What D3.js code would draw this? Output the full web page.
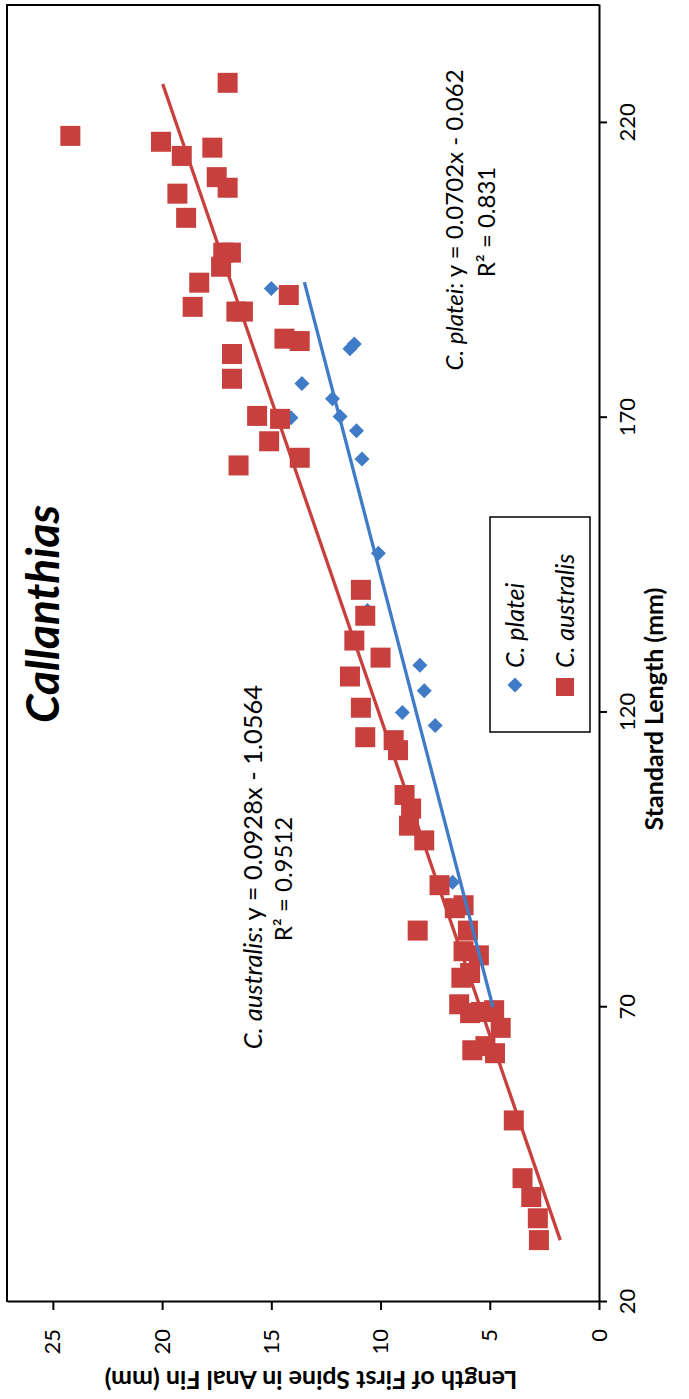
<!DOCTYPE html>
<html>
<head>
<meta charset="utf-8">
<script src="https://cdn.jsdelivr.net/npm/d3@7"></script>
<style>
  body { margin: 0; background: #fff; }
  text { font-family: Lato, "Open Sans", sans-serif; fill: #000; }
</style>
</head>
<body>
<div id="chart"></div>
<script>
var svgWidth = 689;
var svgHeight = 1399;

// the figure is laid out landscape and then turned a quarter turn (page is portrait)
var plot = { left: 97, right: 1394, top: 7, bottom: 599 };

// C. platei (blue diamonds): standard length, spine length
var plateiSL    = [91.2, 117.8, 120.0, 123.7, 128.0, 137.3, 147.0, 163.0, 167.8, 170.0, 170.2, 173.2, 175.8, 181.7, 182.5, 191.9];
var plateiSpine = [6.7,  7.5,   9.0,   8.0,   8.2,   10.6,  10.1,  10.85, 11.1,  14.1,  11.85, 12.2,  13.6,  11.4,  11.2,  15.0];

// C. australis (red squares)
var australisSL    = [30.5, 34.2, 37.8, 41.0, 50.8, 62.2, 62.7, 63.4, 66.5, 69.0, 69.2, 69.5, 70.5, 75.0, 75.8, 78.8, 79.5, 83.0, 83.0, 86.8, 87.3, 90.7,
                      98.3, 100.8, 103.7, 106.0, 113.6, 115.3, 115.8, 120.8, 126.1, 129.3, 132.2, 136.4, 140.8, 161.9, 163.2, 166.0, 169.8, 170.3,
                      176.6, 180.8, 183.0, 183.4, 188.0, 188.0, 188.8, 190.8, 192.9, 195.6, 198.0, 198.0, 203.9, 208.0, 209.0, 210.8, 214.4, 215.8,
                      216.8, 217.8, 226.8];
var australisSpine = [2.75, 2.8, 3.1, 3.5, 3.9, 4.76, 5.8, 5.2, 4.5, 5.9, 5.4, 4.8, 6.4, 6.3, 5.9, 5.5, 6.2, 8.3, 6.0, 6.6, 6.2, 7.3,
                      8.0, 8.7, 8.6, 8.9, 9.2, 9.4, 10.7, 10.9, 11.4, 10.0, 11.2, 10.7, 10.9, 16.5, 13.7, 15.1, 14.6, 15.65,
                      16.8, 16.8, 13.7, 14.4, 16.6, 16.3, 18.6, 14.2, 18.3, 17.3, 17.2, 16.85, 18.9, 19.3, 17.0, 17.5, 19.1, 17.7,
                      20.05, 24.2, 17.0];

var xTicks = [20, 70, 120, 170, 220];
var yTicks = [0, 5, 10, 15, 20, 25];

// linear trendlines as printed on the figure
var trendNames = ["C. platei", "C. australis"];
var trendSlope = [0.0702, 0.0928];
var trendIntercept = [-0.062, -1.0564];
var trendR2 = ["0.831", "0.9512"];
var trendFrom = [70, 30.5];
var trendTo = [193, 226.6];

var blue = "#3f7bc6";
var red = "#c7403d";

var svg = d3.select("#chart")
  .append("svg")
  .attr("width", svgWidth)
  .attr("height", svgHeight);

var chartGroup = svg.append("g")
  .attr("transform", `translate(0, ${svgHeight}) rotate(-90)`);

var xScale = d3.scaleLinear().domain([20, 240]).range([plot.left, plot.right]);
var yScale = d3.scaleLinear().domain([0, 27.1]).range([plot.bottom, plot.top]);

// plot border (top and left of the landscape layout)
chartGroup.append("path")
  .attr("d", `M${plot.left},${plot.top}H${plot.right}V${plot.bottom}`)
  .attr("fill", "none")
  .attr("stroke", "#000")
  .attr("stroke-width", 2);

// x axis (standard length)
var xAxis = chartGroup.append("g")
  .attr("transform", `translate(0, ${plot.bottom})`)
  .call(d3.axisBottom(xScale).tickValues(xTicks).tickSize(8).tickPadding(12).tickSizeOuter(0));

// y axis (spine length)
var yAxis = chartGroup.append("g")
  .attr("transform", `translate(${plot.left}, 0)`)
  .call(d3.axisLeft(yScale).tickValues(yTicks).tickSize(8).tickPadding(19).tickSizeOuter(0));

[xAxis, yAxis].forEach(function(ax) {
  ax.select(".domain").attr("stroke-width", 2);
  ax.selectAll(".tick line").attr("stroke-width", 2);
  ax.selectAll(".tick text").attr("font-size", 22).style("font-family", "Lato, sans-serif");
});

// axis titles
chartGroup.append("text")
  .attr("x", 690)
  .attr("y", 663)
  .attr("text-anchor", "middle")
  .attr("font-size", 25)
  .attr("font-weight", "bold")
  .text("Standard Length (mm)");

chartGroup.append("text")
  .attr("transform", `translate(28, ${(plot.top + plot.bottom) / 2 + 8}) rotate(-90)`)
  .attr("text-anchor", "middle")
  .attr("font-size", 25)
  .attr("font-weight", "bold")
  .text("Length of First Spine in Anal Fin (mm)");

// chart title
chartGroup.append("text")
  .attr("x", 785)
  .attr("y", 59)
  .attr("text-anchor", "middle")
  .attr("font-size", 46)
  .attr("font-weight", "bold")
  .attr("font-style", "italic")
  .text("Callanthias");

// data as [x, y] pairs
var plateiData = plateiSL.map((d, i) => [d, plateiSpine[i]]);
var australisData = australisSL.map((d, i) => [d, australisSpine[i]]);

var diamond = "M0,-7.5L7.5,0L0,7.5L-7.5,0Z";

chartGroup.selectAll(".platei")
  .data(plateiData)
  .enter()
  .append("path")
  .classed("platei", true)
  .attr("d", diamond)
  .attr("transform", d => `translate(${xScale(d[0])}, ${yScale(d[1])})`)
  .attr("fill", blue);

chartGroup.selectAll(".australis")
  .data(australisData)
  .enter()
  .append("rect")
  .classed("australis", true)
  .attr("x", d => xScale(d[0]) - 10)
  .attr("y", d => yScale(d[1]) - 10)
  .attr("width", 20)
  .attr("height", 20)
  .attr("fill", red);

// trendlines
var lineColors = [blue, red];
trendNames.forEach(function(name, i) {
  var ends = [trendFrom[i], trendTo[i]].map(x => [x, trendSlope[i] * x + trendIntercept[i]]);
  chartGroup.append("path")
    .attr("d", d3.line().x(d => xScale(d[0])).y(d => yScale(d[1]))(ends))
    .attr("stroke", lineColors[i])
    .attr("stroke-width", 3.3)
    .attr("fill", "none");
});

// trendline labels
var labelPos = [
  { x: 1179, y: 463, x2: 1177, y2: 495 },
  { x: 532, y: 262, x2: 520, y2: 292 }
];
var labelSize = [24, 25.5];
trendNames.forEach(function(name, i) {
  var p = labelPos[i];
  var t = chartGroup.append("text")
    .attr("x", p.x)
    .attr("y", p.y)
    .attr("text-anchor", "middle")
    .attr("font-size", labelSize[i]);
  t.append("tspan").attr("font-style", "italic").text(name);
  var sign = trendIntercept[i] < 0 ? " - " : " + ";
  t.append("tspan").text(": y = " + trendSlope[i] + "x" + sign + Math.abs(trendIntercept[i]));
  chartGroup.append("text")
    .attr("x", p.x2)
    .attr("y", p.y2)
    .attr("text-anchor", "middle")
    .attr("font-size", 24)
    .text("R² = " + trendR2[i]);
});

// legend
var legend = chartGroup.append("g");
legend.append("rect")
  .attr("x", 667)
  .attr("y", 490)
  .attr("width", 215)
  .attr("height", 100)
  .attr("fill", "#fff")
  .attr("stroke", "#000")
  .attr("stroke-width", 1.5);

legend.append("path")
  .attr("d", diamond)
  .attr("transform", "translate(714, 515)")
  .attr("fill", blue);
legend.append("rect")
  .attr("x", 703)
  .attr("y", 556)
  .attr("width", 18)
  .attr("height", 18)
  .attr("fill", red);

legend.selectAll(".legendText")
  .data(trendNames)
  .enter()
  .append("text")
  .attr("x", 731)
  .attr("y", (d, i) => i === 0 ? 524 : 574)
  .attr("font-size", 25)
  .attr("font-style", "italic")
  .text(d => d);
</script>
</body>
</html>
